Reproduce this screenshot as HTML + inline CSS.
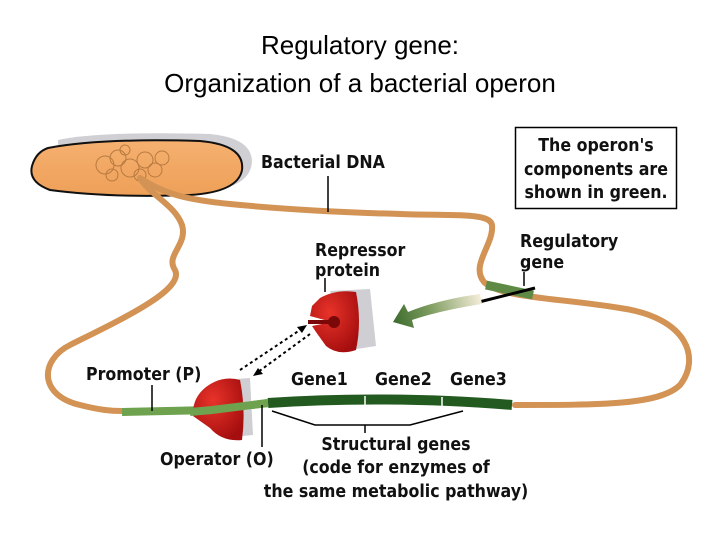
<!DOCTYPE html>
<html><head><meta charset="utf-8"><style>
html,body{margin:0;padding:0;background:#fff;width:720px;height:540px;overflow:hidden}
svg{display:block}
.t{font-family:"Liberation Sans",sans-serif;font-size:26px;fill:#000}
.b{font-family:"DejaVu Sans Condensed","DejaVu Sans","Liberation Sans",sans-serif;font-weight:bold;font-size:17.6px;fill:#111}
</style></head><body>
<svg width="720" height="540" viewBox="0 0 720 540">
<defs>
<linearGradient id="cg" x1="0" y1="0" x2="0" y2="1"><stop offset="0" stop-color="#f5b070"/><stop offset="1" stop-color="#eea058"/></linearGradient>
<linearGradient id="ag" x1="480" y1="298" x2="395" y2="322" gradientUnits="userSpaceOnUse"><stop offset="0" stop-color="#f3ecd8"/><stop offset="0.6" stop-color="#7a9a5c"/><stop offset="1" stop-color="#3f6e30"/></linearGradient>
<radialGradient id="rg" cx="0.4" cy="0.35" r="0.7"><stop offset="0" stop-color="#e8332a"/><stop offset="1" stop-color="#a50e0e"/></radialGradient>
</defs>
<text class="t" x="360" y="54" text-anchor="middle">Regulatory gene:</text>
<text class="t" x="360" y="92" text-anchor="middle">Organization of a bacterial operon</text>

<!-- cell -->
<path d="M58,140 Q100,131 210,134 Q252,138 252,162 Q250,185 215,190 L60,190 Z" fill="#d0d0d4"/>
<path d="M48,148 Q100,138 200,141 Q245,145 242,170 Q238,192 190,195 Q110,198 50,190 Q28,182 32,166 Q36,152 48,148 Z" fill="url(#cg)" stroke="#111" stroke-width="2"/>
<g fill="none" stroke="#b87a40" stroke-width="1">
<circle cx="105" cy="165" r="9"/><circle cx="118" cy="158" r="8"/><circle cx="130" cy="168" r="9"/><circle cx="145" cy="160" r="8"/><circle cx="155" cy="170" r="7"/><circle cx="162" cy="158" r="7"/><circle cx="112" cy="175" r="6"/><circle cx="140" cy="175" r="6"/><circle cx="125" cy="150" r="5"/>
</g>
<!-- DNA -->
<g fill="none" stroke="#d29355" stroke-width="6" stroke-linecap="round" stroke-linejoin="round">
<path d="M140,178 C165,195 190,200 230,204 C270,208 330,212 400,214 C450,216 490,212 492,225 C494,245 470,265 484,282 C500,298 560,298 620,308 C690,318 700,360 680,385 C660,405 600,405 515,405"/>
<path d="M140,178 C150,195 175,205 182,225 C188,245 165,255 175,270 C185,290 120,320 70,345 C40,360 38,395 80,405 C100,410 110,411 122,411"/>
</g>
<!-- regulatory gene -->
<path d="M486,285 L533,295" stroke="#5f8a45" stroke-width="9"/>
<line x1="479" y1="302" x2="535" y2="288" stroke="#000" stroke-width="3"/>
<line x1="524" y1="272" x2="524" y2="286" stroke="#000" stroke-width="1.5"/>
<!-- big arrow -->
<path d="M480,294 C450,298 425,305 408,312 L404,304 L393,322 L414,328 L412,320 C430,314 455,308 482,304 Z" fill="url(#ag)"/>
<!-- operon -->
<path d="M122,412 L212,410 L268,403" stroke="#6ea24e" stroke-width="8" fill="none"/>
<path d="M268,403 C340,398 430,398 512,405" stroke="#235a20" stroke-width="10" fill="none"/>
<line x1="365" y1="396" x2="365" y2="410" stroke="#fff" stroke-width="1.5"/>
<line x1="442" y1="397" x2="442" y2="411" stroke="#fff" stroke-width="1.5"/>
<!-- repressor -->
<path d="M330,291 L370,289 L376,346 L350,350 Z" fill="#cfcfd3"/>
<path d="M320,298 Q336,289 356,292 Q362,322 356,350 Q338,356 326,346 L316,332 L312,326 L332,322 L310,316 L312,306 Z" fill="url(#rg)"/>
<circle cx="334" cy="322" r="6" fill="#7a0808"/>
<line x1="308" y1="322" x2="334" y2="322" stroke="#7a0808" stroke-width="4"/>
<line x1="325" y1="278" x2="325" y2="292" stroke="#000" stroke-width="1.5"/>
<!-- operator protein -->
<path d="M222,380 L250,378 L253,435 L232,437 Z" fill="#cfcfd3"/>
<path d="M206,387 Q222,375 240,380 Q246,410 242,440 Q222,442 210,428 L193,416 Q192,398 206,387 Z" fill="url(#rg)"/>
<path d="M190,412 L212,410 L268,403" stroke="#6ea24e" stroke-width="8" fill="none"/>
<line x1="152" y1="385" x2="152" y2="411" stroke="#000" stroke-width="1.5"/>
<line x1="262" y1="405" x2="262" y2="447" stroke="#000" stroke-width="1.5"/>
<!-- dotted arrows -->
<g stroke="#000" stroke-width="2" stroke-dasharray="3,3" fill="none">
<line x1="240" y1="370" x2="303" y2="328"/><line x1="310" y1="334" x2="258" y2="372"/>
</g>
<path d="M307,325 L297,327 L302,333 Z" fill="#000"/>
<path d="M253,376 L263,374 L258,368 Z" fill="#000"/>
<!-- structural bracket -->
<polyline points="272,411 315,425 410,425 463,411" fill="none" stroke="#000" stroke-width="1.5"/>
<line x1="365" y1="425" x2="365" y2="433" stroke="#000" stroke-width="1.5"/>
<!-- box -->
<rect x="515.5" y="127.5" width="161" height="81" fill="#fff" stroke="#000" stroke-width="1.5"/>
<text class="b" x="596" y="151" text-anchor="middle">The operon's</text>
<text class="b" x="596" y="175" text-anchor="middle">components are</text>
<text class="b" x="596" y="198" text-anchor="middle">shown in green.</text>
<!-- labels -->
<text class="b" x="261" y="168">Bacterial DNA</text>
<line x1="328" y1="176" x2="328" y2="212" stroke="#000" stroke-width="1.5"/>
<text class="b" x="315" y="256">Repressor</text>
<text class="b" x="315" y="276">protein</text>
<text class="b" x="520" y="247">Regulatory</text>
<text class="b" x="520" y="268">gene</text>
<text class="b" x="86" y="380">Promoter (P)</text>
<text class="b" x="291" y="385">Gene1</text>
<text class="b" x="375" y="385">Gene2</text>
<text class="b" x="450" y="385">Gene3</text>
<text class="b" x="160" y="465">Operator (O)</text>
<text class="b" x="396" y="450" text-anchor="middle">Structural genes</text>
<text class="b" x="396" y="473" text-anchor="middle">(code for enzymes of</text>
<text class="b" x="396" y="497" text-anchor="middle">the same metabolic pathway)</text>
</svg>
</body></html>
